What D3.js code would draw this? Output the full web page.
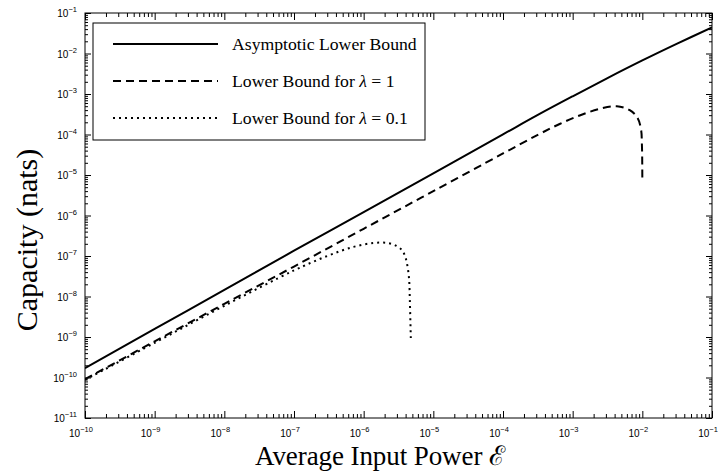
<!DOCTYPE html>
<html>
<head>
<meta charset="utf-8">
<script src="https://cdn.jsdelivr.net/npm/d3@7"></script>
<style>
  body { margin: 0; background: #fff; }
  svg { display: block; }
  .tick-label { font-family: "Liberation Sans", Arial, sans-serif; font-size: 10px; fill: #000; }
  .axis-title { font-family: "Liberation Serif", "Times New Roman", serif; font-size: 27px; fill: #000; }
  .legend-text { font-family: "Liberation Serif", "Times New Roman", serif; font-size: 17.7px; fill: #000; }
</style>
</head>
<body>
<svg id="chart" width="718" height="471"></svg>
<script>
// decade exponents used for the tick labels
var xTickExps = [-10, -9, -8, -7, -6, -5, -4, -3, -2, -1];
var yTickExps = [-11, -10, -9, -8, -7, -6, -5, -4, -3, -2, -1];

// Asymptotic lower bound
var asymE = [1e-10, 1e-9, 1e-8, 1e-7, 1e-6, 1e-5, 1e-4, 3.16e-4, 1e-3, 3.16e-3, 1e-2, 3.16e-2, 1e-1];
var asymC = [1.7e-10, 1.58e-9, 1.45e-8, 1.35e-7, 1.21e-6, 1.1e-5, 1.007e-4, 3.04e-4, 8.77e-4, 2.47e-3, 6.73e-3, 1.75e-2, 4.4e-2];

// Lower bound for lambda = 1
var lam1E = [1e-10, 1e-9, 1e-8, 1e-7, 1e-6, 1e-5, 1e-4, 3.16e-4, 6.5e-4, 1.26e-3, 2.45e-3, 4.3e-3, 6.6e-3, 8.5e-3, 9.6e-3, 9.85e-3, 9.95e-3, 1e-2];
var lam1C = [9.1e-11, 7.8e-10, 6.6e-9, 5.5e-8, 4.7e-7, 4.0e-6, 3.4e-5, 9.8e-5, 1.82e-4, 2.95e-4, 4.3e-4, 5.0e-4, 4.0e-4, 2.6e-4, 1.3e-4, 6e-5, 2.7e-5, 7.5e-6];

// Lower bound for lambda = 0.1
var lam01E = [1e-10, 1e-9, 1e-8, 1e-7, 3e-7, 7e-7, 1.4e-6, 2.2e-6, 3.0e-6, 3.6e-6, 4.0e-6, 4.3e-6, 4.5e-6, 4.6e-6, 4.75e-6];
var lam01C = [8.7e-11, 7.2e-10, 5.9e-9, 4.4e-8, 1.0e-7, 1.66e-7, 2.1e-7, 2.1e-7, 1.75e-7, 1.35e-7, 9e-8, 5e-8, 2.5e-8, 8e-9, 9.5e-10];

var legendLabels = ["Asymptotic Lower Bound", "Lower Bound for ", "Lower Bound for "];
var legendLambda = [null, "1", "0.1"];
var dashes = [null, "8,5", "2,4"];

(function() {
  var svg = d3.select("#chart");
  var mLeft = 85, mRight = 712, mTop = 13, mBottom = 418;

  var x = d3.scaleLog().domain([1e-10, 1e-1]).range([mLeft, mRight]);
  var y = d3.scaleLog().domain([1e-11, 1e-1]).range([mBottom, mTop]);

  function minors(lo, hi) {
    var out = [];
    for (var e = lo; e < hi; e++) {
      for (var m = 2; m <= 9; m++) out.push(m * Math.pow(10, e));
    }
    return out;
  }
  var xMajor = xTickExps.map(function(e) { return Math.pow(10, e); });
  var yMajor = yTickExps.map(function(e) { return Math.pow(10, e); });
  var xMinor = minors(-10, -1);
  var yMinor = minors(-11, -1);

  function drawAxis(axisFn, scale, vals, size, tx, ty) {
    var g = svg.append("g")
      .attr("transform", "translate(" + tx + "," + ty + ")")
      .call(axisFn(scale).tickValues(vals).tickSize(-size).tickFormat(""));
    g.select(".domain").remove();
    g.selectAll("line").attr("stroke", "#000").attr("stroke-width", 1);
  }

  // ticks point inward on all four sides
  drawAxis(d3.axisBottom, x, xMajor, 7, 0, mBottom);
  drawAxis(d3.axisBottom, x, xMinor, 4, 0, mBottom);
  drawAxis(d3.axisTop, x, xMajor, 7, 0, mTop);
  drawAxis(d3.axisTop, x, xMinor, 4, 0, mTop);
  drawAxis(d3.axisLeft, y, yMajor, 6, mLeft, 0);
  drawAxis(d3.axisLeft, y, yMinor, 3, mLeft, 0);
  drawAxis(d3.axisRight, y, yMajor, 6, mRight, 0);
  drawAxis(d3.axisRight, y, yMinor, 3, mRight, 0);

  svg.append("rect")
    .attr("x", mLeft).attr("y", mTop)
    .attr("width", mRight - mLeft).attr("height", mBottom - mTop)
    .attr("fill", "none").attr("stroke", "#000").attr("stroke-width", 1);

  // tick labels 10^e
  xTickExps.forEach(function(e) {
    var t = svg.append("text").attr("class", "tick-label")
      .attr("x", x(Math.pow(10, e)) - 4).attr("y", mBottom + 19)
      .attr("text-anchor", "middle");
    t.append("tspan").text("10");
    t.append("tspan").attr("dy", -5).attr("font-size", "7.5px").text("\u2212" + (-e));
  });
  yTickExps.forEach(function(e) {
    var t = svg.append("text").attr("class", "tick-label")
      .attr("x", mLeft - 8).attr("y", y(Math.pow(10, e)) + 4)
      .attr("text-anchor", "end");
    t.append("tspan").text("10");
    t.append("tspan").attr("dy", -5).attr("font-size", "7.5px").text("\u2212" + (-e));
  });

  // axis titles
  svg.append("text").attr("class", "axis-title")
    .attr("x", 380).attr("y", 465)
    .attr("text-anchor", "middle")
    .attr("textLength", 250).attr("lengthAdjust", "spacing")
    .text("Average Input Power \u2130");
  svg.append("text").attr("class", "axis-title")
    .attr("transform", "translate(37,240) rotate(-90)")
    .attr("text-anchor", "middle")
    .style("font-size", "30px")
    .text("Capacity (nats)");

  // curves
  var line = d3.line()
    .x(function(d) { return x(d[0]); })
    .y(function(d) { return y(d[1]); })
    .curve(d3.curveCatmullRom.alpha(0.5));

  var series = [
    d3.zip(asymE, asymC),
    d3.zip(lam1E, lam1C),
    d3.zip(lam01E, lam01C)
  ];

  svg.append("clipPath").attr("id", "clip").append("rect")
    .attr("x", mLeft).attr("y", mTop).attr("width", mRight - mLeft).attr("height", mBottom - mTop);

  series.forEach(function(s, i) {
    svg.append("path")
      .datum(s)
      .attr("d", line)
      .attr("clip-path", "url(#clip)")
      .attr("fill", "none")
      .attr("stroke", "#000")
      .attr("stroke-width", 2)
      .attr("stroke-dasharray", dashes[i]);
  });

  // legend
  var lg = svg.append("g");
  lg.append("rect")
    .attr("x", 93).attr("y", 23).attr("width", 332).attr("height", 117)
    .attr("fill", "#fff").attr("stroke", "#000").attr("stroke-width", 1);
  legendLabels.forEach(function(lbl, i) {
    var ly = 44 + i * 37;
    lg.append("line")
      .attr("x1", 113).attr("x2", 218).attr("y1", ly).attr("y2", ly)
      .attr("stroke", "#000").attr("stroke-width", 2)
      .attr("stroke-dasharray", dashes[i]);
    var t = lg.append("text").attr("class", "legend-text")
      .attr("x", 232).attr("y", ly + 6);
    t.append("tspan").text(lbl);
    if (legendLambda[i]) {
      t.append("tspan").attr("font-style", "italic").text("\u03bb");
      t.append("tspan").text(" = " + legendLambda[i]);
    }
  });
})();
</script>
</body>
</html>
